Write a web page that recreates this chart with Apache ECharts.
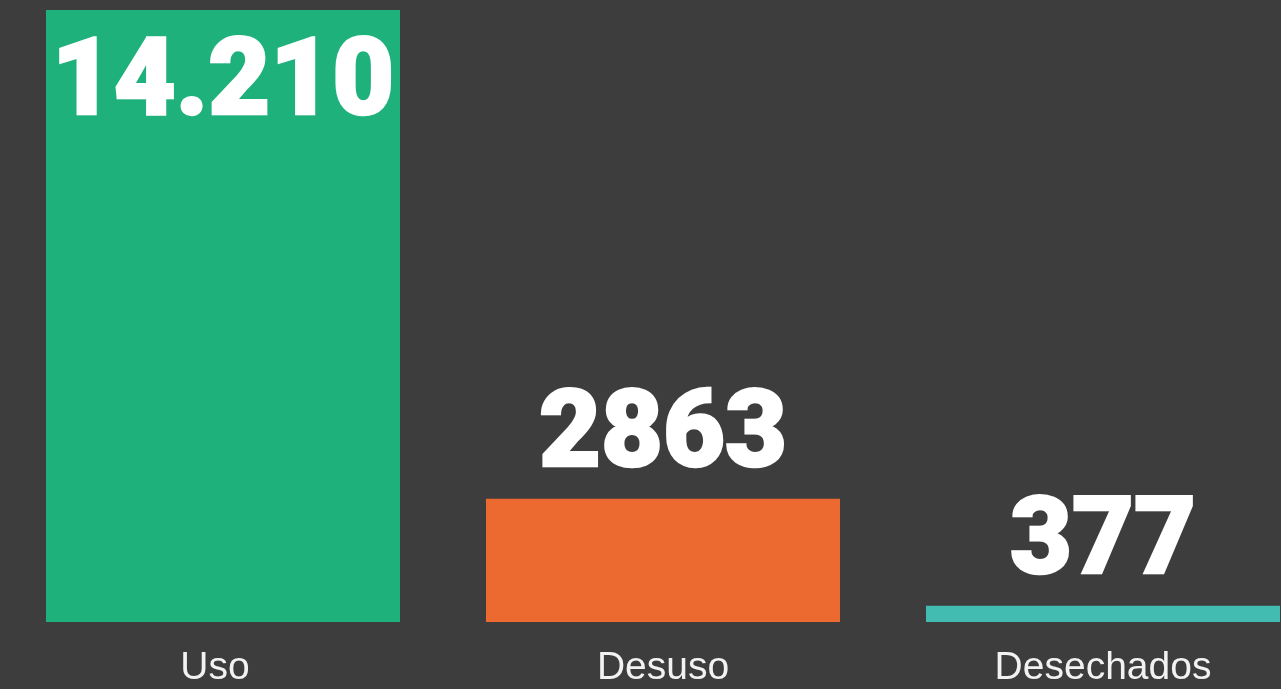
<!DOCTYPE html>
<html>
<head>
<meta charset="utf-8">
<title>Uso, desuso y desechados</title>
<script src="https://cdn.jsdelivr.net/npm/echarts@6/dist/echarts.min.js"></script>
<style>
  html, body { margin: 0; padding: 0; background: #3d3d3d; overflow: hidden; }
  /* canvas runs a little past the right edge so the last bar meets the border */
  #chart { width: 1323px; height: 689px; }
</style>
</head>
<body>
<div id="chart"></div>
<script>
// Categories and their counts
const categories = ['Uso', 'Desuso', 'Desechados'];
const values = [14210, 2863, 377];
const barColors = ['#1fb17c', '#ec6930', '#42bcb1'];

// Spanish number style: thousands separator only from five digits up
function formatCount(v) {
  const s = String(v);
  if (s.length < 5) return s;
  return s.replace(/\B(?=(\d{3})+(?!\d))/g, '.');
}

const bigFont = 'Roboto, "Liberation Sans", sans-serif';
const axisFont = '"Liberation Sans", Arial, sans-serif';

const seriesData = values.map((v, i) => ({
  value: v,
  itemStyle: { color: barColors[i] },
  label: i === 0
    ? { position: 'insideTop', distance: 24 }
    : { position: 'top', distance: 6 }
}));

const chart = echarts.init(document.getElementById('chart'), null, { renderer: 'canvas' });
chart.setOption({
  backgroundColor: '#3d3d3d',
  animation: false,
  grid: { left: 3, right: 0, top: 10, bottom: 67, containLabel: false },
  xAxis: {
    type: 'category',
    data: categories,
    axisLine: { show: false },
    axisTick: { show: false },
    axisLabel: {
      color: '#f2f2f2',
      fontSize: 39,
      fontFamily: axisFont,
      margin: 27,
      formatter: (v, i) => i === 0 ? '{first|' + v + '}' : v,
      rich: {
        first: {
          color: '#f2f2f2',
          fontSize: 39,
          fontFamily: axisFont,
          padding: [0, 16, 0, 0]
        }
      }
    }
  },
  yAxis: {
    type: 'value',
    min: 0,
    max: 'dataMax',
    show: false,
    splitLine: { show: false }
  },
  series: [{
    type: 'bar',
    data: seriesData,
    barWidth: 354,
    label: {
      show: true,
      formatter: p => formatCount(p.value),
      color: '#ffffff',
      fontFamily: bigFont,
      fontWeight: 900,
      fontSize: 107,
      textBorderColor: '#ffffff',
      textBorderWidth: 2.5
    }
  }]
});
</script>
</body>
</html>
